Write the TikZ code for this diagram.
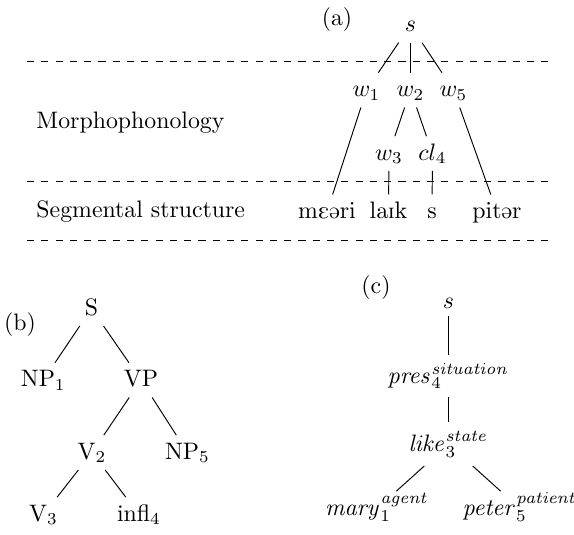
\documentclass[tikz,border=0pt]{standalone}
\usepackage{tipa}
\usepackage{tikz}
\usetikzlibrary{positioning}
\tikzstyle{lab}    = [inner sep=0pt, anchor=base]
\tikzstyle{tnode}  = [anchor=base, text height=1.5ex, text depth=.25ex]
\tikzstyle{snode}  = [anchor=base]
\tikzstyle{tier}   = [dashed]

\begin{document}
\begin{tikzpicture}[x=0.42pt, y=-0.42pt]
  \useasboundingbox (0,0) rectangle (574,535);

  % (a) tiers
  \node[lab] (la) at (337,25.5) {(a)};
  \draw[tier] (27,61)  -- (555,61);
  \draw[tier] (27,181) -- (555,181);
  \draw[tier] (27,240) -- (555,240);
  \node[lab, anchor=base west] (morph) at (36,128.3) {Morphophonology};
  \node[lab, anchor=base west] (seg)   at (36,217.5) {Segmental structure};

  \node[tnode] (sa)   at (410.5,31.7) {$s$};
  \node[tnode] (w1)   at (366.5,96.5) {$w_1$};
  \node[tnode] (w2)   at (410.5,96.5) {$w_2$};
  \node[tnode] (w5)   at (453.5,96.5) {$w_5$};
  \node[tnode] (w3)   at (389,160)    {$w_3$};
  \node[tnode] (cl4)  at (432.5,160)  {$cl_4$};
  \node[tnode] (mari) at (327,218.3)  {\textipa{mE@ri}};
  \node[tnode] (laik) at (388.5,218.3) {\textipa{laIk}};
  \node[tnode] (sfx)  at (432,218.3)  {\textipa{s}};
  \node[tnode] (pitr) at (497,218.3)  {\textipa{pit@r}};

  \draw (sa)  -- (w1);
  \draw (sa)  -- (w2);
  \draw (sa)  -- (w5);
  \draw (w1)  -- (mari);
  \draw (w2)  -- (w3);
  \draw (w2)  -- (cl4);
  \draw (w5)  -- (pitr);
  \draw (w3)  -- (laik);
  \draw (cl4) -- (sfx);

  % (b) syntax
  \node[lab] (lb) at (20,330) {(b)};
  \node[tnode] (S)   at (91.5,315)  {S};
  \node[tnode] (np1) at (43.3,386.5) {NP$_1$};
  \node[tnode] (vp)  at (141,386.5) {VP};
  \node[tnode] (v2)  at (92,459)    {V$_2$};
  \node[tnode] (np5) at (187.5,459) {NP$_5$};
  \node[tnode] (v3)  at (43.5,521)  {V$_3$};
  \node[tnode] (inf) at (139,521)   {infl$_4$};

  \draw (S)  -- (np1);
  \draw (S)  -- (vp);
  \draw (vp) -- (v2);
  \draw (vp) -- (np5);
  \draw (v2) -- (v3);
  \draw (v2) -- (inf);

  % (c) semantics
  \node[lab] (lc) at (376,293) {(c)};
  \node[snode] (sc)    at (448.5,308)   {$s$};
  \node[snode] (pres)  at (448.5,383)   {$\mathit{pres}_4^{\mathit{situation}}$};
  \node[snode] (like)  at (448.5,451.7) {$\mathit{like}_3^{\mathit{state}}$};
  \node[tnode] (mary)  at (377,515)     {$\mathit{mary}_1^{\mathit{agent}}$};
  \node[tnode] (peter) at (520,515)     {$\mathit{peter}_5^{\mathit{patient}}$};

  \draw (sc)   -- (pres);
  \draw (pres) -- (like);
  \draw (like) -- (mary);
  \draw (like) -- (peter);
\end{tikzpicture}
\end{document}
